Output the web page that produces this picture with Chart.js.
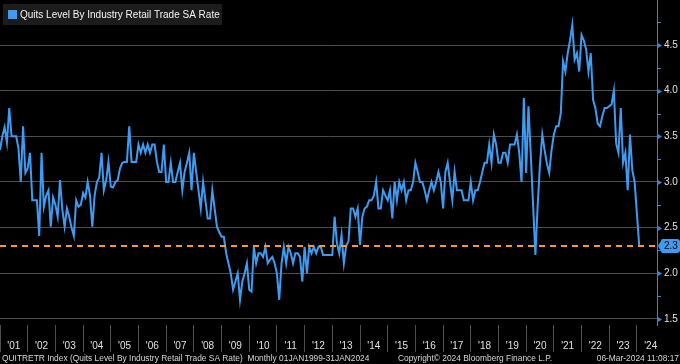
<!DOCTYPE html>
<html>
<head>
<meta charset="utf-8">
<script src="https://cdn.jsdelivr.net/npm/chart.js@4.4.1/dist/chart.umd.min.js"></script>
<style>
  html, body { margin: 0; padding: 0; background: #000; }
  #wrap { width: 680px; height: 364px; }
</style>
</head>
<body>
<div id="wrap"><canvas id="quitsChart" width="680" height="364"></canvas></div>
<script>
// monthly observations, Dec 2000 .. Jan 2024 (plotted at month end)
const quits = [
    3.35, 3.5, 3.6, 3.43, 3.81, 3.5, 3.5, 3.5, 3.37, 3.0, 3.61, 3.1,
    3.15, 3.32, 2.8, 2.8, 2.8, 2.41, 3.32, 2.73, 2.85, 2.91, 2.51, 2.83,
    2.75, 2.62, 3.02, 2.7, 2.51, 2.71, 2.62, 2.5, 2.41, 2.8, 2.73, 2.75,
    2.88, 2.83, 3.0, 2.85, 2.51, 2.85, 3.0, 3.05, 3.32, 2.91, 3.02, 3.22,
    2.95, 2.94, 3.0, 3.02, 3.15, 3.21, 3.22, 3.22, 3.61, 3.22, 3.22, 3.22,
    3.41, 3.32, 3.41, 3.32, 3.41, 3.32, 3.41, 3.41, 3.22, 3.11, 3.11, 3.41,
    3.0, 3.0, 3.21, 3.0, 3.0, 3.11, 3.21, 2.91, 3.11, 3.21, 3.32, 2.91,
    3.32, 3.11, 2.91, 2.71, 3.0, 2.8, 2.6, 2.6, 2.91, 2.71, 2.51, 2.45,
    2.4, 2.4, 2.22, 2.11, 2.0, 1.82, 1.91, 2.0, 1.71, 1.91, 2.0, 2.11,
    1.82, 1.8, 2.29, 2.11, 2.22, 2.22, 2.18, 2.29, 2.11, 2.15, 2.18, 2.11,
    2.0, 1.71, 2.11, 2.29, 2.11, 2.29, 2.22, 2.11, 2.22, 2.22, 2.18, 1.91,
    2.29, 2.0, 2.29, 2.22, 2.29, 2.22, 2.29, 2.29, 2.2, 2.2, 2.2, 2.2,
    2.2, 2.62, 2.33, 2.22, 2.42, 2.11, 2.3, 2.35, 2.71, 2.71, 2.62, 2.71,
    2.31, 2.62, 2.71, 2.73, 2.8, 2.8, 2.85, 3.0, 2.71, 2.71, 2.91, 2.85,
    2.8, 2.91, 2.6, 3.0, 2.8, 3.0, 2.91, 3.0, 2.8, 2.91, 2.91, 3.0,
    3.21, 3.11, 3.0, 3.0, 2.91, 2.8, 2.91, 3.0, 2.91, 3.0, 3.11, 3.0,
    2.71, 3.11, 3.21, 3.0, 2.8, 3.11, 2.91, 2.91, 2.91, 2.8, 2.8, 2.8,
    3.0, 2.8, 2.91, 2.91, 3.0, 3.11, 3.21, 3.21, 3.41, 3.21, 3.52, 3.41,
    3.21, 3.21, 3.32, 3.32, 3.21, 3.41, 3.41, 3.41, 3.52, 3.32, 3.0, 3.92,
    3.1, 3.83, 3.3, 2.75, 2.2, 2.75, 3.2, 3.52, 3.35, 3.2, 3.1, 3.35,
    3.52, 3.61, 3.61, 3.75, 4.32, 4.21, 4.41, 4.55, 4.72, 4.34, 4.41, 4.21,
    4.61, 4.55, 4.45, 4.21, 4.41, 3.9, 3.81, 3.64, 3.61, 3.72, 3.81, 3.81,
    3.83, 3.85, 4.0, 3.42, 3.32, 3.81, 3.21, 3.32, 2.91, 3.52, 3.13, 3.0,
    2.65, 2.3
];

// month labels for each observation
const months = quits.map((_, i) => {
    const n = 11 + i;
    return (2000 + Math.floor(n / 12)) + "-" + String(n % 12 + 1).padStart(2, "0");
});

const yearLabels = ["'01", "'02", "'03", "'04", "'05", "'06", "'07", "'08", "'09", "'10", "'11", "'12",
                    "'13", "'14", "'15", "'16", "'17", "'18", "'19", "'20", "'21", "'22", "'23", "'24"];
const yearTicks = yearLabels.map((_, i) => i * 12);
const yTicks = [1.5, 2, 2.5, 3, 3.5, 4, 4.5];
const lastValue = 2.3;

const legendText = "Quits Level By Industry Retail Trade SA Rate";
const footerLeft = "QUITRETR Index (Quits Level By Industry Retail Trade SA Rate)  Monthly 01JAN1999-31JAN2024";
const footerMid = "Copyright\u00a9 2024 Bloomberg Finance L.P.";
const footerRight = "06-Mar-2024 11:08:17";

const lineBlue = "#3d9cf2";
const axisBlue = "#2f86dc";
const dashOrange = "#f59a2e";
const FONT = "'Liberation Sans', Arial, sans-serif";

const X_MAX = 284.7;

const decorations = {
    id: "decorations",
    afterDraw(chart) {
        const ctx = chart.ctx;
        const ys = chart.scales.y;
        const area = chart.chartArea;
        ctx.save();

        // right axis tick arrows and minor ticks
        ctx.fillStyle = axisBlue;
        ctx.strokeStyle = axisBlue;
        ctx.lineWidth = 1;
        for (let v = 1.5; v <= 4.75; v += 0.25) {
            const py = Math.round(ys.getPixelForValue(v)) + 0.5;
            if (v % 0.5 === 0) {
                ctx.beginPath();
                ctx.moveTo(area.right, py - 3);
                ctx.lineTo(area.right + 5, py);
                ctx.lineTo(area.right, py + 3);
                ctx.closePath();
                ctx.fill();
            } else {
                ctx.beginPath();
                ctx.moveTo(area.right, py);
                ctx.lineTo(area.right + 4, py);
                ctx.stroke();
            }
        }

        // last value tag
        const ly = ys.getPixelForValue(lastValue);
        ctx.fillStyle = "#3f9bef";
        ctx.beginPath();
        ctx.moveTo(area.right + 1, ly);
        ctx.lineTo(area.right + 5, ly - 7);
        ctx.lineTo(677, ly - 7);
        ctx.quadraticCurveTo(680, ly - 7, 680, ly - 4);
        ctx.lineTo(680, ly + 4);
        ctx.quadraticCurveTo(680, ly + 7, 677, ly + 7);
        ctx.lineTo(area.right + 5, ly + 7);
        ctx.closePath();
        ctx.fill();
        ctx.fillStyle = "#000";
        ctx.font = "10px " + FONT;
        ctx.textBaseline = "middle";
        ctx.textAlign = "left";
        ctx.fillText(lastValue.toFixed(1), 664, ly + 0.5);

        // legend box
        ctx.fillStyle = "#1c1c1c";
        ctx.fillRect(3, 4, 219, 21);
        ctx.fillStyle = lineBlue;
        ctx.fillRect(8, 10, 9, 9);
        ctx.fillStyle = "#f2f2f2";
        ctx.font = "10px " + FONT;
        ctx.fillText(legendText, 20, 15);

        // footer
        ctx.fillStyle = "#d6d6d6";
        ctx.font = "8.4px " + FONT;
        ctx.textBaseline = "alphabetic";
        ctx.textAlign = "left";
        ctx.fillText(footerLeft, 2, 361);
        ctx.textAlign = "center";
        ctx.fillText(footerMid, 475, 361);
        ctx.textAlign = "right";
        ctx.fillText(footerRight, 679, 361);

        ctx.restore();
    }
};

const ctx = document.getElementById("quitsChart").getContext("2d");
new Chart(ctx, {
    type: "line",
    data: {
        labels: months,
        datasets: [{
            label: legendText,
            data: quits.map((v, i) => ({ x: i, y: v })),
            borderColor: lineBlue,
            borderWidth: 2,
            pointRadius: 0,
            tension: 0,
            order: 1
        }, {
            label: "Last",
            data: [{ x: 0, y: lastValue }, { x: X_MAX, y: lastValue }],
            borderColor: dashOrange,
            borderWidth: 2,
            borderDash: [6, 5],
            pointRadius: 0,
            order: 0
        }]
    },
    options: {
        responsive: false,
        animation: false,
        devicePixelRatio: 1,
        layout: { padding: 0 },
        plugins: {
            legend: { display: false },
            tooltip: { enabled: false }
        },
        scales: {
            x: {
                type: "linear",
                min: 0,
                max: X_MAX,
                afterBuildTicks: (scale) => { scale.ticks = yearTicks.map(v => ({ value: v })); },
                afterFit: (scale) => {
                    scale.height = 39;
                    scale.paddingLeft = 0;
                    scale.paddingRight = 0;
                },
                grid: {
                    drawOnChartArea: false,
                    drawTicks: true,
                    tickLength: 27,
                    color: "#505050"
                },
                border: { display: false },
                ticks: {
                    autoSkip: false,
                    maxRotation: 0,
                    labelOffset: 13.8,
                    padding: -12,
                    color: "#e0e0e0",
                    font: { family: FONT, size: 10 },
                    callback: (value, index) => yearLabels[index]
                }
            },
            y: {
                position: "right",
                min: 1.434,
                max: 4.993,
                afterBuildTicks: (scale) => { scale.ticks = yTicks.map(v => ({ value: v })); },
                afterFit: (scale) => {
                    scale.width = 23;
                    scale.paddingTop = 0;
                    scale.paddingBottom = 0;
                },
                grid: {
                    color: "#4e4e4e",
                    drawTicks: false
                },
                border: { color: axisBlue, width: 1 },
                ticks: {
                    padding: 7,
                    color: "#e0e0e0",
                    font: { family: FONT, size: 10 },
                    callback: (value) => value.toFixed(1)
                }
            }
        }
    },
    plugins: [decorations]
});
</script>
</body>
</html>
